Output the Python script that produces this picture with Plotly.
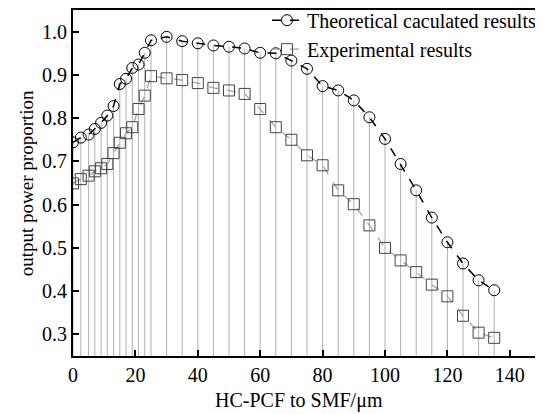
import plotly.graph_objects as go

# Data
length_um = [0, 2.5, 5, 7, 9, 11, 13, 15, 17, 19, 21, 23, 25,
             30, 35, 40, 45, 50, 55, 60, 65, 70, 75, 80, 85, 90,
             95, 100, 105, 110, 115, 120, 125, 130, 135]
theoretical = [0.744, 0.755, 0.762, 0.775, 0.789, 0.806, 0.828, 0.879, 0.891, 0.916, 0.924, 0.951, 0.980,
               0.988, 0.978, 0.973, 0.968, 0.965, 0.961, 0.951, 0.950, 0.933, 0.914, 0.874, 0.864, 0.841,
               0.802, 0.752, 0.694, 0.633, 0.570, 0.513, 0.464, 0.425, 0.402]
experimental = [0.649, 0.659, 0.667, 0.677, 0.684, 0.694, 0.719, 0.743, 0.765, 0.779, 0.821, 0.852, 0.897,
                0.892, 0.888, 0.881, 0.870, 0.864, 0.856, 0.821, 0.779, 0.750, 0.714, 0.691, 0.633, 0.601,
                0.552, 0.500, 0.471, 0.444, 0.415, 0.388, 0.343, 0.304, 0.292]

x_ticks = [0, 20, 40, 60, 80, 100, 120, 140]
y_ticks = [0.3, 0.4, 0.5, 0.6, 0.7, 0.8, 0.9, 1.0]
x_range = [0, 150]
y_range = [0.25, 1.05]

font_family = "Liberation Serif, Times New Roman, serif"

# Drop lines built from data
drop_x, drop_y = [], []
for xv, t, e in zip(length_um, theoretical, experimental):
    drop_x += [xv, xv, None]
    drop_y += [max(t, e), y_range[0], None]

fig = go.Figure()
fig.add_trace(go.Scatter(x=drop_x, y=drop_y, mode="lines",
                         line=dict(color="#b0b0b0", width=1),
                         showlegend=False, hoverinfo="skip"))
fig.add_trace(go.Scatter(x=length_um, y=theoretical, mode="lines+markers",
                         name="Theoretical caculated results",
                         line=dict(color="black", width=1.5, dash="dash"),
                         marker=dict(symbol="circle-open", size=11, color="black",
                                     line=dict(width=1, color="black"))))
fig.add_trace(go.Scatter(x=length_um, y=experimental, mode="lines+markers",
                         name="Experimental results",
                         line=dict(color="#a0a0a0", width=1.2, dash="dash"),
                         marker=dict(symbol="square-open", size=11, color="#444444",
                                     line=dict(width=1, color="#444444"))))

# The page body adds an 8px offset, so the figure is sized to fill the rest of the window
fig.update_layout(
    width=535, height=406,
    margin=dict(l=65, r=2, t=2, b=58, autoexpand=False),
    paper_bgcolor="white", plot_bgcolor="white",
    font=dict(family=font_family, size=17, color="black"),
    legend=dict(x=1.0, y=1.027, xanchor="right", yanchor="top",
                bgcolor="rgba(0,0,0,0)", borderwidth=0,
                font=dict(family=font_family, size=20, color="black"),
                itemwidth=30, tracegroupgap=0),
    xaxis=dict(range=x_range, tickvals=x_ticks, ticks="inside", ticklen=6, tickwidth=2,
               tickcolor="black", showline=True, linecolor="black", linewidth=2,
               mirror=True, showgrid=False, zeroline=False, automargin=False,
               tickfont=dict(size=20)),
    yaxis=dict(range=y_range, tickvals=y_ticks, tickformat=".1f", ticks="inside", ticklen=6,
               tickwidth=2, tickcolor="black", showline=True, linecolor="black", linewidth=2,
               mirror=True, showgrid=False, zeroline=False, automargin=False,
               tickfont=dict(size=20)),
    annotations=[
        dict(text="HC-PCF to SMF/μm", xref="paper", yref="paper", x=0.483, y=-0.09,
             xanchor="center", yanchor="top", showarrow=False, font=dict(size=20)),
        dict(text="output power proportion", xref="paper", yref="paper", x=-0.1, y=0.5,
             xanchor="center", yanchor="middle", textangle=-90, showarrow=False,
             font=dict(size=19)),
    ],
)

fig.write_html("out.html")
